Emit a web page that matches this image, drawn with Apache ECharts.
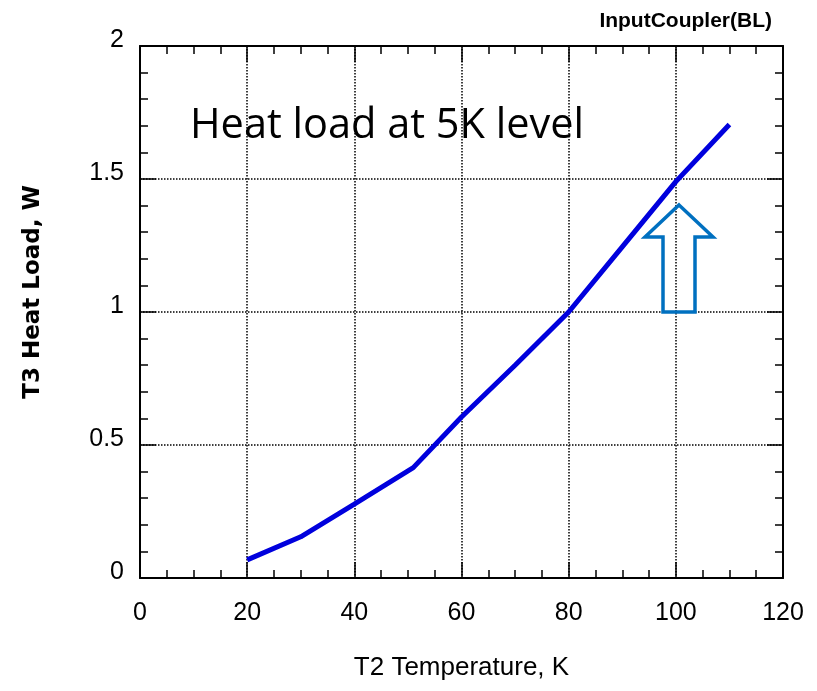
<!DOCTYPE html>
<html>
<head>
<meta charset="utf-8">
<script src="https://cdn.jsdelivr.net/npm/echarts@6/dist/echarts.min.js"></script>
<style>
  html, body { margin: 0; padding: 0; background: #fff; }
  #chart { width: 817px; height: 691px; }
</style>
</head>
<body>
<div id="chart"></div>
<script>
// T2 temperature (K) vs T3 heat load (W)
var temps = [20, 30, 40, 51, 60, 70, 80, 90, 100, 110];
var loads = [0.068, 0.155, 0.278, 0.415, 0.605, 0.80, 1.00, 1.245, 1.49, 1.705];
var xTicks = [0, 20, 40, 60, 80, 100, 120];
var yTicks = [0, 0.5, 1, 1.5, 2];

var tickFont = 'Liberation Sans, Arial, sans-serif';

var myChart = echarts.init(document.getElementById('chart'));

// mirrored axis used for the top / right frame
function frameAxis(pos, interval, split, max) {
  return {
    type: 'value',
    position: pos,
    min: 0,
    max: max,
    interval: interval,
    axisLine: { show: true, onZero: false, lineStyle: { color: '#000', width: 2 } },
    axisTick: { show: true, inside: true, length: 16, lineStyle: { color: '#000', width: 1.5 } },
    minorTick: { show: true, splitNumber: split, length: 8, lineStyle: { color: '#000', width: 1.5 } },
    axisLabel: { show: false },
    splitLine: { show: false }
  };
}

var option = {
  animation: false,
  grid: { left: 140, right: 34, top: 46, bottom: 113 },
  title: {
    text: 'InputCoupler(BL)',
    right: 40,
    top: 6,
    textStyle: { fontFamily: tickFont, fontSize: 21, fontWeight: 'bold', color: '#000' }
  },
  xAxis: [
    {
      type: 'value',
      min: 0,
      max: 120,
      interval: 20,
      name: 'T2 Temperature, K',
      nameLocation: 'middle',
      nameGap: 77,
      nameTextStyle: { fontFamily: tickFont, fontSize: 26, color: '#000' },
      axisLine: { show: true, onZero: false, lineStyle: { color: '#000', width: 2 } },
      axisTick: { show: true, inside: true, length: 16, lineStyle: { color: '#000', width: 1.5 } },
      minorTick: { show: true, splitNumber: 4, length: 8, lineStyle: { color: '#000', width: 1.5 } },
      axisLabel: {
        margin: 23,
        fontFamily: tickFont,
        fontSize: 25,
        color: '#000',
        formatter: function (v) { return xTicks.indexOf(v) >= 0 ? String(v) : ''; }
      },
      splitLine: { show: true, lineStyle: { color: '#000', type: 'dotted', width: 1.5 } }
    },
    frameAxis('top', 20, 4, 120)
  ],
  yAxis: [
    {
      type: 'value',
      min: 0,
      max: 2,
      interval: 0.5,
      axisLine: { show: true, onZero: false, lineStyle: { color: '#000', width: 2 } },
      axisTick: { show: true, inside: true, length: 16, lineStyle: { color: '#000', width: 1.5 } },
      minorTick: { show: true, splitNumber: 5, length: 8, lineStyle: { color: '#000', width: 1.5 } },
      axisLabel: {
        margin: 16,
        fontFamily: tickFont,
        fontSize: 25,
        color: '#000',
        // labels sit slightly above their ticks in the original
        verticalAlign: 'bottom',
        lineHeight: 11,
        formatter: function (v) { return yTicks.indexOf(v) >= 0 ? String(v) : ''; }
      },
      splitLine: { show: true, lineStyle: { color: '#000', type: 'dotted', width: 1.5 } }
    },
    frameAxis('right', 0.5, 5, 2)
  ],
  series: [
    {
      type: 'line',
      data: temps.map(function (t, i) { return [t, loads[i]]; }),
      showSymbol: false,
      smooth: false,
      lineStyle: { color: '#0000dd', width: 5 },
      z: 5
    }
  ],
  graphic: [
    {
      // y axis title, sits a little above the axis centre
      type: 'text',
      x: 33,
      y: 292,
      rotation: Math.PI / 2,
      style: {
        text: 'T3 Heat Load, W',
        font: 'bold 23px "DejaVu Sans", sans-serif',
        fill: '#000',
        align: 'center',
        verticalAlign: 'middle'
      }
    },
    {
      type: 'text',
      left: 190,
      top: 105,
      style: {
        text: 'Heat load at 5K level',
        font: '41.5px "Open Sans", "Noto Sans", sans-serif',
        fill: '#000'
      }
    },
    {
      // hollow up-arrow annotation
      type: 'polygon',
      shape: {
        points: [[679, 205], [713, 237], [695, 237], [695, 312], [663, 312], [663, 237], [645, 237]]
      },
      style: { fill: 'none', stroke: '#0070c0', lineWidth: 3.5 },
      z: 10
    }
  ]
};

myChart.setOption(option);
</script>
</body>
</html>
